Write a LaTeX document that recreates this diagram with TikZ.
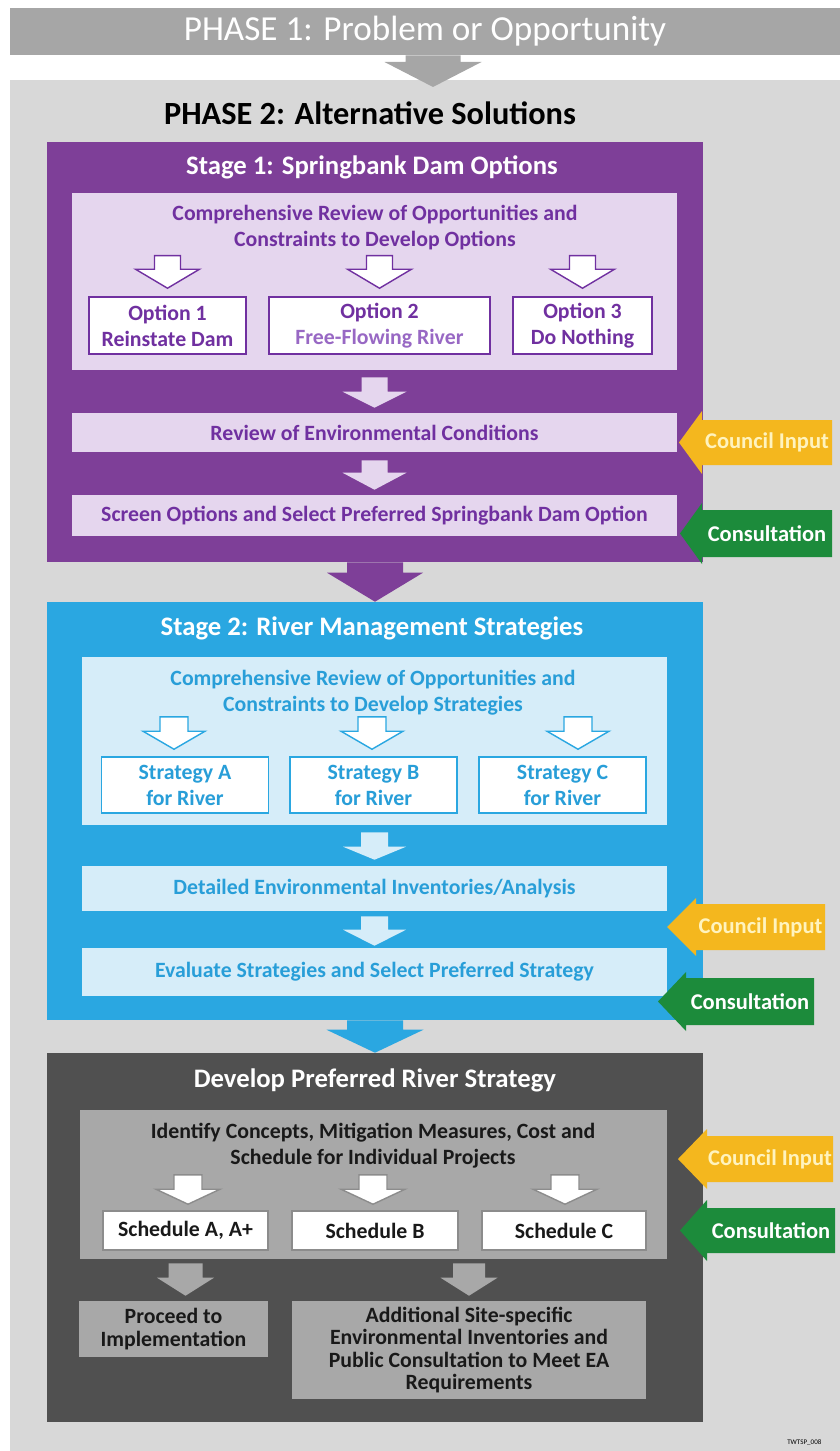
\documentclass[tikz,border=0pt]{standalone}
\usepackage{fontspec}
\setmainfont{Carlito}
\usetikzlibrary{positioning}
\usetikzlibrary{calc}

\definecolor{bandgray}{RGB}{166,166,166}
\definecolor{panelgray}{RGB}{216,216,216}
\definecolor{stagepurple}{RGB}{126,63,152}
\definecolor{lavender}{RGB}{229,214,238}
\definecolor{purpletext}{RGB}{112,48,160}
\definecolor{lightpurpletext}{RGB}{152,104,196}
\definecolor{stageblue}{RGB}{42,167,225}
\definecolor{paleblue}{RGB}{214,237,249}
\definecolor{bluetext}{RGB}{40,158,216}
\definecolor{stagedark}{RGB}{80,80,80}
\definecolor{midgray}{RGB}{168,168,168}
\definecolor{outlinegray}{RGB}{140,140,140}
\definecolor{darktext}{RGB}{25,25,25}
\definecolor{inputyellow}{RGB}{244,183,30}
\definecolor{inputtext}{RGB}{255,243,190}
\definecolor{consultgreen}{RGB}{28,139,59}

\newdimen\pxu \pxu=0.025cm

\tikzstyle{stagebox}=[rectangle,inner sep=0pt]
\tikzstyle{panel}=[rectangle,inner sep=0pt]
\tikzstyle{title}=[text=white,font=\fontsize{19}{22}\selectfont\bfseries]
\tikzstyle{boxtext}=[align=center,inner sep=0pt,font=\fontsize{15.5}{18.5}\selectfont\bfseries]
\tikzstyle{choice}=[rectangle,fill=white,line width=1.1pt,align=center,inner sep=0pt,font=\fontsize{15.5}{18.5}\selectfont\bfseries]
\tikzstyle{hollow}=[fill=white,line width=1pt]
\tikzstyle{sidelabel}=[inner sep=0pt,font=\fontsize{16}{19}\selectfont\bfseries]

% block arrow pointing down: style, from, to, gap at start, gap at tip,
% half shaft width, half head width, head length (all in px)
\newcommand{\blockarrow}[8]{%
  \path[#1] let \p1=(#2), \p2=(#3) in
    (\x1-#6\pxu,\y1-#4\pxu) -- (\x1+#6\pxu,\y1-#4\pxu)
    -- (\x1+#6\pxu,\y2+#5\pxu+#8\pxu) -- (\x1+#7\pxu,\y2+#5\pxu+#8\pxu)
    -- (\x1,\y2+#5\pxu) -- (\x1-#7\pxu,\y2+#5\pxu+#8\pxu)
    -- (\x1-#6\pxu,\y2+#5\pxu+#8\pxu) -- cycle;}

\begin{document}
\begin{tikzpicture}[x=0.025cm,y=-0.025cm]
  \useasboundingbox (0,0) rectangle (840,1451);

  % background and phases
  \fill[panelgray] (10,80) rectangle (840,1451);
  \node[panel,fill=bandgray,minimum width=830\pxu,minimum height=47\pxu,text=white,font=\fontsize{25}{28}\selectfont] (phaseone) at (425,31.5) {PHASE 1: Problem or Opportunity};
  \node[font=\fontsize{23}{26}\selectfont\bfseries] (phasetwo) at (370,113) {PHASE 2: Alternative Solutions};
  \coordinate (phasetip) at (433,87);
  \blockarrow{fill=bandgray}{phasetip |- phaseone.south}{phasetip}{0}{0}{27.5}{48.5}{25}

  % stage frames
  \foreach \cx/\cy/\hh/\col/\name in {375/352/420/stagepurple/stageone, 375/811/418/stageblue/stagetwo, 375/1237.5/369/stagedark/develop}
    \node[stagebox,fill=\col,minimum width=656\pxu,minimum height=\hh\pxu] (\name) at (\cx,\cy) {};

  \node[title] (titleone) at (372,167) {Stage 1: Springbank Dam Options};
  \node[title] (titletwo) at (372,628) {Stage 2: River Management Strategies};
  \node[title] (titlethree) at (375,1080) {Develop Preferred River Strategy};

  \blockarrow{fill=stagepurple}{stageone.south}{stagetwo.north}{0}{0}{28}{48}{29}
  \blockarrow{fill=stageblue}{stagetwo.south}{develop.north}{0}{0}{28}{48.5}{23}

  % stage 1
  \node[panel,fill=lavender,minimum width=605\pxu,minimum height=177\pxu] (introboxone) at (374.5,281.5) {};
  \node[boxtext,text=purpletext] (introone) at (375,228) {Comprehensive Review of Opportunities and\\Constraints to Develop Options};
  \foreach \cx/\ww/\name/\label in {167.5/157/opt1/{Option 1\\Reinstate Dam}, 379.5/221/opt2/{Option 2\\\textcolor{lightpurpletext}{Free-Flowing River}}, 582.5/139/opt3/{Option 3\\Do Nothing}}
    \node[choice,draw=purpletext,text=purpletext,minimum width=\ww\pxu,minimum height=57\pxu] (\name) at (\cx,325.5) {\label};
  \node[panel,boxtext,fill=lavender,text=purpletext,minimum width=605\pxu,minimum height=39\pxu] (review) at (374.5,432.5) {Review of Environmental Conditions};
  \node[panel,boxtext,fill=lavender,text=purpletext,minimum width=605\pxu,minimum height=41\pxu] (screen) at (374.5,515.5) {Screen Options and Select Preferred Springbank Dam Option};

  \foreach \name in {opt1,opt2,opt3}
    {\blockarrow{hollow,draw=purpletext}{introone.south -| \name.north}{\name.north}{5}{8}{13}{32}{19}}
  \blockarrow{fill=lavender}{introboxone.south}{review.north}{7}{5}{13}{32}{16}
  \blockarrow{fill=lavender}{review.south}{screen.north}{8}{5}{13}{32}{17}

  % stage 2
  \node[panel,fill=paleblue,minimum width=585\pxu,minimum height=168\pxu] (introboxtwo) at (374.5,741) {};
  \node[boxtext,text=bluetext] (introtwo) at (373,692.5) {Comprehensive Review of Opportunities and\\Constraints to Develop Strategies};
  \foreach \cx/\name/\label in {185/strA/A, 373.5/strB/B, 562.5/strC/C}
    \node[choice,draw=stageblue,text=bluetext,minimum width=167\pxu,minimum height=56\pxu] (\name) at (\cx,785) {Strategy \label\\for River};
  \node[panel,boxtext,fill=paleblue,text=bluetext,minimum width=585\pxu,minimum height=45\pxu] (detailed) at (374.5,888.5) {Detailed Environmental Inventories/Analysis};
  \node[panel,boxtext,fill=paleblue,text=bluetext,minimum width=585\pxu,minimum height=48\pxu] (evaluate) at (374.5,972) {Evaluate Strategies and Select Preferred Strategy};

  \foreach \name/\ax in {strA/174, strB/372, strC/578}
    {\blockarrow{hollow,draw=stageblue}{introtwo.south -| \ax,0}{\name.north -| \ax,0}{1.5}{7}{14}{31}{18}}
  \blockarrow{fill=paleblue}{introboxtwo.south}{detailed.north}{7}{6}{13.5}{31.5}{13}
  \blockarrow{fill=paleblue}{detailed.south}{evaluate.north}{5}{2}{13.5}{31.5}{16}

  % develop preferred strategy
  \node[panel,fill=midgray,minimum width=587\pxu,minimum height=149\pxu] (identifybox) at (373.5,1184.5) {};
  \node[boxtext,text=darktext] (identify) at (373,1145.5) {Identify Concepts, Mitigation Measures, Cost and\\Schedule for Individual Projects};
  \foreach \cx/\ww/\name/\label in {185.5/165/schA/{Schedule A, A+}, 375/166/schB/Schedule B, 564/164/schC/Schedule C}
    \node[choice,draw=outlinegray,text=darktext,minimum width=\ww\pxu,minimum height=39\pxu] (\name) at (\cx,1230.5) {\label};
  \node[panel,boxtext,fill=midgray,text=darktext,minimum width=189\pxu,minimum height=56\pxu,font=\fontsize{15.5}{16.5}\selectfont\bfseries] (proceed) at (173.5,1329) {Proceed to\\Implementation};
  \node[panel,boxtext,fill=midgray,text=darktext,minimum width=354\pxu,minimum height=98\pxu,font=\fontsize{15.5}{16}\selectfont\bfseries] (additional) at (469,1350) {Additional Site-specific\\Environmental Inventories and\\Public Consultation to Meet EA\\Requirements};

  \foreach \name/\ax in {schA/188, schB/373, schC/565}
    {\blockarrow{hollow,draw=outlinegray}{identify.south -| \ax,0}{\name.north -| \ax,0}{6.5}{6}{14}{32}{15}}
  \blockarrow{fill=midgray}{identifybox.south -| schA.south}{proceed.north -| schA.south}{4}{5}{17}{28.5}{18}
  \blockarrow{fill=midgray}{identifybox.south -| additional.north}{additional.north}{4}{5}{16}{28.5}{18}

  % side inputs
  \foreach \name/\col/\tx/\bx/\rx/\ta/\tb/\e/\tcol/\label in {
      cinone/inputyellow/679/702/832/420/465/9/inputtext/Council Input,
      conone/consultgreen/680/702/832/510/557/7/white/Consultation,
      cintwo/inputyellow/667/696/825/904/950/6/inputtext/Council Input,
      contwo/consultgreen/658/686/814/978/1025/6/white/Consultation,
      cinthree/inputyellow/678/707/833/1136/1182/7/inputtext/Council Input,
      conthree/consultgreen/680/707/835/1208/1253/8/white/Consultation}
  {
    \fill[\col] (\rx,\ta) -- (\bx,\ta) -- (\bx,\ta-\e) -- (\tx,{(\ta+\tb)/2}) -- (\bx,\tb+\e) -- (\bx,\tb) -- (\rx,\tb) -- cycle;
    \node[sidelabel,text=\tcol] (\name) at ({(\bx+\rx)/2},{(\ta+\tb)/2}) {\label};
  }

  \node[anchor=west,inner sep=0pt,font=\fontsize{5}{6}\selectfont] (tag) at (787,1443) {TWTSP\_008};
\end{tikzpicture}
\end{document}
